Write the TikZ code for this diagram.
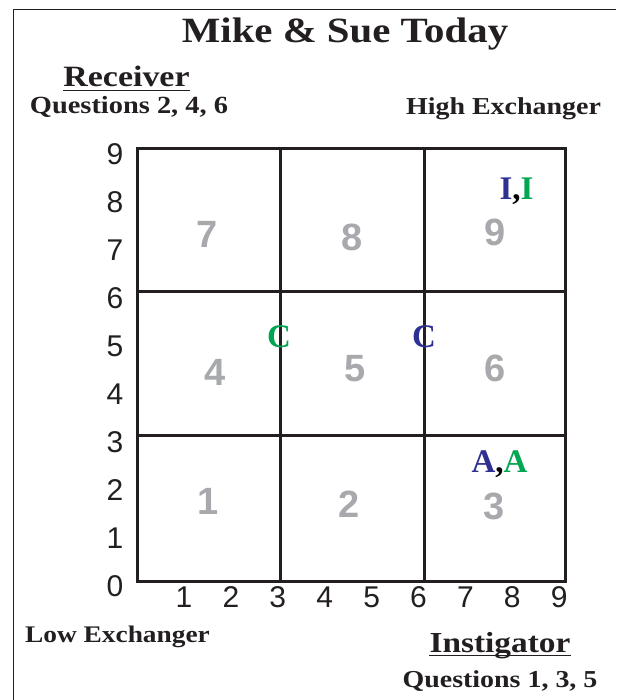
\documentclass[tikz,border=0pt]{standalone}
\usepackage{fontspec}
\setmainfont{Liberation Serif}
\newfontfamily\lblfont[FakeStretch=1.15]{Liberation Serif}
\newfontfamily\sansfont{Liberation Sans}
\definecolor{ink}{HTML}{231F20}
\definecolor{cellgray}{HTML}{A7A9AC}
\definecolor{mblue}{HTML}{2E3192}
\definecolor{sgreen}{HTML}{00A651}
\tikzset{
  gridline/.style={line width=3pt, draw=ink},
  framel/.style={line width=1.5pt, draw=ink},
  ulinestyle/.style={line width=1.8pt, draw=ink},
  lbl/.style={inner sep=0pt, anchor=base, text=ink},
  cellnum/.style={inner sep=0pt, anchor=center, text=cellgray,
    font=\sansfont\bfseries\fontsize{38}{38}\selectfont},
  axnum/.style={inner sep=0pt, text=ink,
    font=\sansfont\fontsize{30}{30}\selectfont},
  letter/.style={inner sep=0pt, anchor=base,
    font=\bfseries\fontsize{33}{33}\selectfont},
}
\begin{document}
\begin{tikzpicture}[x=1pt,y=-1pt]
\useasboundingbox (0,0) rectangle (616,700);
% frame
\draw[framel] (13.5,700) -- (13.5,9.5) -- (616,9.5);
% headings
\node[lbl, font=\lblfont\bfseries\fontsize{35.5}{36}\selectfont] (title) at (345,42.3) {Mike \& Sue Today};
\node[lbl, font=\lblfont\bfseries\fontsize{29.5}{30}\selectfont] (rec) at (126.5,86.7) {Receiver};
\draw[ulinestyle] ([yshift=-3.8pt]rec.base west) -- ([yshift=-3.8pt]rec.base east);
\node[lbl, font=\lblfont\bfseries\fontsize{24.7}{25}\selectfont] (q246) at (129,114) {Questions 2, 4, 6};
\node[lbl, font=\lblfont\bfseries\fontsize{24.3}{25}\selectfont] (high) at (503.5,115) {High Exchanger};
\node[lbl, font=\lblfont\bfseries\fontsize{23.8}{24}\selectfont] (low) at (117.5,642) {Low Exchanger};
\node[lbl, font=\lblfont\bfseries\fontsize{29}{30}\selectfont] (ins) at (500,652) {Instigator};
\draw[ulinestyle] ([yshift=-3.5pt]ins.base west) -- ([yshift=-3.5pt]ins.base east);
\node[lbl, font=\lblfont\bfseries\fontsize{24.3}{25}\selectfont] (q135) at (500,687) {Questions 1, 3, 5};
% grid
\draw[gridline] (137,149) rectangle (565,581);
\draw[gridline] (280,149) -- (280,581);
\draw[gridline] (424,149) -- (424,581);
\draw[gridline] (137,291) -- (565,291);
\draw[gridline] (137,435) -- (565,435);
% axis numbers
\foreach \k in {0,...,9} {
  \node[axnum, anchor=east] (y\k) at (123.5,586-48*\k) {\k};
}
\foreach \k in {1,...,9} {
  \node[axnum, anchor=center] (x\k) at (184+46.9*\k-46.9,597) {\k};
}
% cell numbers
\node[cellnum] (c7) at (207,234) {7};
\node[cellnum] (c8) at (352,237) {8};
\node[cellnum] (c9) at (495,232) {9};
\node[cellnum] (c4) at (215,372) {4};
\node[cellnum] (c5) at (355,369) {5};
\node[cellnum] (c6) at (495,368) {6};
\node[cellnum] (c1) at (208,501) {1};
\node[cellnum] (c2) at (349,504) {2};
\node[cellnum] (c3) at (494,506) {3};
% letters
\node[letter] (ii) at (516.5,200) {\textcolor{mblue}{I},\textcolor{sgreen}{I}};
\node[letter, text=sgreen] (cg) at (279,347) {C};
\node[letter, text=mblue] (cb) at (424,347) {C};
\node[letter] (aa) at (499.5,472) {\textcolor{mblue}{A},\textcolor{sgreen}{A}};
\end{tikzpicture}
\end{document}
